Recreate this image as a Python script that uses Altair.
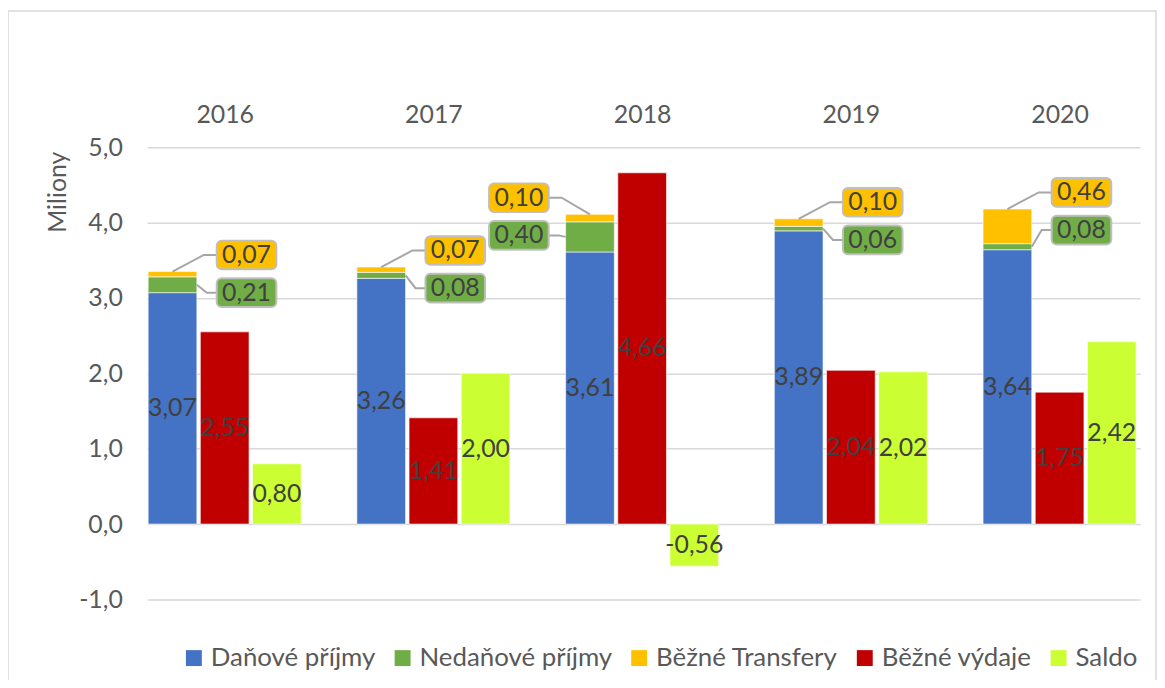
import json
import altair as alt
import pandas as pd

# ---- data ----
years = ["2016", "2017", "2018", "2019", "2020"]
danove = [3.07, 3.26, 3.61, 3.89, 3.64]        # Daňové příjmy
nedanove = [0.21, 0.08, 0.40, 0.06, 0.08]      # Nedaňové příjmy
transfery = [0.07, 0.07, 0.10, 0.10, 0.46]     # Běžné Transfery
vydaje = [2.55, 1.41, 4.66, 2.04, 1.75]        # Běžné výdaje
saldo = [0.80, 2.00, -0.56, 2.02, 2.42]        # Saldo

series = ["Daňové příjmy", "Nedaňové příjmy", "Běžné Transfery", "Běžné výdaje", "Saldo"]
colors = ["#4472C4", "#70AD47", "#FFC000", "#C00000", "#CCFF33"]

# ---- layout (category units: 1 = one year step) ----
FONT = "Lato"
FS = 25
TXT = "#404040"
AX = "#595959"
GRID = "#D9D9D9"
W, H = 999, 455
PX = 210.0                     # pixels per category step
BAR_W = 49 / PX
SLOT = 52.5 / PX
GROUP = 2 * SLOT + BAR_W
BOX_W = 60 / PX
BOX_HH = 0.19                  # half box height in data units


def fmt(v):
    return f"{v:.2f}".replace(".", ",")


bars, labels, boxes, leaders = [], [], [], []
for i, yr in enumerate(years):
    base = 0.0
    for s, v in zip(series[:3], [danove[i], nedanove[i], transfery[i]]):
        bars.append(dict(series=s, x=i, x2=i + BAR_W, y=base, y2=base + v))
        base += v
    top = base
    bars.append(dict(series=series[3], x=i + SLOT, x2=i + SLOT + BAR_W, y=0, y2=vydaje[i]))
    bars.append(dict(series=series[4], x=i + 2 * SLOT, x2=i + 2 * SLOT + BAR_W, y=0, y2=saldo[i]))

    labels.append(dict(x=i + BAR_W / 2, y=danove[i] / 2, t=fmt(danove[i])))
    labels.append(dict(x=i + SLOT + BAR_W / 2, y=vydaje[i] / 2, t=fmt(vydaje[i])))
    labels.append(dict(x=i + 2 * SLOT + BAR_W / 2, y=saldo[i] / 2, t=fmt(saldo[i])))

    # callouts for the two thin segments
    left = vydaje[i] > top
    if left:
        bx1 = i - 17 / PX
        bx0 = bx1 - BOX_W
        edge, sgn = bx1, 1
    else:
        bx0 = i + 69 / PX
        bx1 = bx0 + BOX_W
        edge, sgn = bx0, -1
    y_yel = top + 0.22
    y_grn = y_yel - 0.5
    boxes.append(dict(x=bx0, x2=bx1, y=y_yel - BOX_HH, y2=y_yel + BOX_HH,
                      xc=(bx0 + bx1) / 2, yc=y_yel, t=fmt(transfery[i]), fill=colors[2]))
    boxes.append(dict(x=bx0, x2=bx1, y=y_grn - BOX_HH, y2=y_grn + BOX_HH,
                      xc=(bx0 + bx1) / 2, yc=y_grn, t=fmt(nedanove[i]), fill=colors[1]))
    lid = f"{yr}-t"
    pts = [(i + BAR_W / 2, top), (edge + sgn * 13 / PX, y_yel), (edge, y_yel)]
    for k, (px, py) in enumerate(pts):
        leaders.append(dict(id=lid, k=k, x=px, y=py))
    lid = f"{yr}-n"
    gx = i if left else i + BAR_W
    pts = [(gx, danove[i] + nedanove[i] / 2), (edge + sgn * 10 / PX, y_grn), (edge, y_grn)]
    for k, (px, py) in enumerate(pts):
        leaders.append(dict(id=lid, k=k, x=px, y=py))

bars_df = pd.DataFrame(bars)
labels_df = pd.DataFrame(labels)
boxes_df = pd.DataFrame(boxes)
boxtext_df = boxes_df[["xc", "yc", "t"]].rename(columns={"xc": "x", "yc": "y"})
leaders_df = pd.DataFrame(leaders)

xscale = alt.Scale(domain=[-1 / PX, (W - 1) / PX], nice=False, zero=False)
yscale = alt.Scale(domain=[-1, 5], nice=False, zero=False)

label_expr = json.dumps(years) + "[floor(datum.value)]"

X_AXIS = alt.Axis(orient="top", values=[i + GROUP / 2 for i in range(len(years))],
                  labelExpr=label_expr, grid=False, domain=False, ticks=False,
                  labelPadding=20, labelFontSize=FS, labelColor=AX, title=None)
Y_AXIS = alt.Axis(values=[-1, 0, 1, 2, 3, 4, 5], format=".1f",
                  labelExpr="replace(replace(datum.label, '.', ','), '\u2212', '-')",
                  grid=True, gridColor=GRID, gridWidth=1.5, domain=False, ticks=False,
                  labelPadding=25, labelFontSize=FS, labelColor=AX,
                  title="Miliony", titleFontSize=FS, titleFontWeight="normal",
                  titleColor=AX, titleAngle=270, titleAlign="right",
                  titleBaseline="middle", titleX=-90, titleY=4)

bar_layer = alt.Chart(bars_df).mark_rect(stroke="white", strokeWidth=0.6).encode(
    x=alt.X("x:Q", scale=xscale, axis=X_AXIS),
    x2="x2:Q",
    y=alt.Y("y:Q", scale=yscale, axis=Y_AXIS),
    y2="y2:Q",
    color=alt.Color("series:N", scale=alt.Scale(domain=series, range=colors),
                    sort=series,
                    legend=alt.Legend(orient="none", legendX=34, legendY=501,
                                      direction="horizontal", title=None,
                                      labelFontSize=26, labelColor=AX, labelLimit=0,
                                      symbolType="square", symbolSize=256,
                                      symbolStrokeWidth=0, labelOffset=4,
                                      columnPadding=14, padding=0)),
)

label_layer = alt.Chart(labels_df).mark_text(fontSize=FS, color=TXT, baseline="middle").encode(
    x=alt.X("x:Q", scale=xscale),
    y=alt.Y("y:Q", scale=yscale),
    text="t:N",
)

leader_layer = alt.Chart(leaders_df).mark_line(color="#A6A6A6", strokeWidth=2).encode(
    x=alt.X("x:Q", scale=xscale),
    y=alt.Y("y:Q", scale=yscale),
    detail="id:N",
    order="k:Q",
)

box_layer = alt.Chart(boxes_df).mark_rect(stroke="#BFBFBF", strokeWidth=2, cornerRadius=5).encode(
    x=alt.X("x:Q", scale=xscale),
    x2="x2:Q",
    y=alt.Y("y:Q", scale=yscale),
    y2="y2:Q",
    fill=alt.Fill("fill:N", scale=None),
)

box_text = alt.Chart(boxtext_df).mark_text(fontSize=FS, color=TXT, baseline="middle").encode(
    x=alt.X("x:Q", scale=xscale),
    y=alt.Y("y:Q", scale=yscale),
    text="t:N",
)

frame = alt.Chart(pd.DataFrame({"a": [0]})).mark_rect(
    fill=None, stroke=GRID, strokeWidth=1.5
).encode(
    x=alt.value(-140), x2=alt.value(1015), y=alt.value(-137), y2=alt.value(700)
)

chart = alt.layer(bar_layer, frame, leader_layer, box_layer, box_text, label_layer).properties(
    width=W, height=H,
    autosize=alt.AutoSizeParams(type="none"),
    padding={"left": 140, "top": 138, "right": 17, "bottom": 79},
).configure(font=FONT).configure_view(stroke=None)

chart.save("out.html", embed_options={"renderer": "svg", "actions": False})
